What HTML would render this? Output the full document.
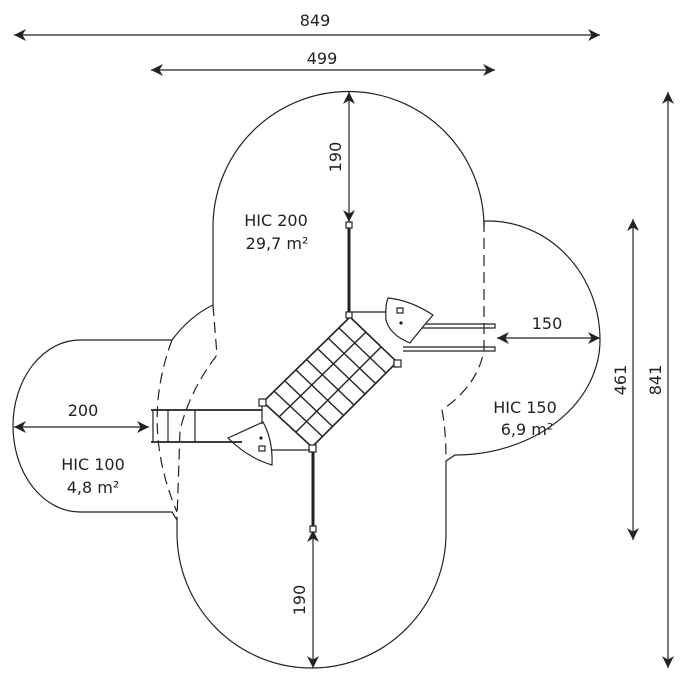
<!DOCTYPE html>
<html><head><meta charset="utf-8"><style>
html,body{margin:0;padding:0;background:#fff;}
svg{display:block;}
text{font-family:"DejaVu Sans","Liberation Sans",sans-serif;fill:#222;}
</style></head><body>
<svg width="680" height="680" viewBox="0 0 680 680" xmlns="http://www.w3.org/2000/svg">
<defs>
<marker id="a" viewBox="0 0 10 10" refX="10" refY="5" markerWidth="12" markerHeight="12" markerUnits="userSpaceOnUse" orient="auto-start-reverse">
<path d="M0,0 L10,5 L0,10 L3,5 z" fill="#222"/></marker>
</defs>
<g stroke="#222" fill="none" stroke-width="1.2">
<!-- outline -->
<path d="M213,305 L213,227 A135.5,135.5 0 0 1 484,227 L484,221 L488,221 A112,119 0 0 1 600,340 A145,115 0 0 1 455,455 L446,461 L446,533 A134.5,135 0 0 1 177,533 L177,520 L172,512 L80,512 A67,86 0 0 1 80,340 L172,340 Q190,316 213,305"/>
<!-- dashed -->
<path stroke-dasharray="11,6" d="M172,340 Q140,425 177,512"/>
<path stroke-dasharray="11,6" d="M213,305 L217,355 Q190,390 180,430 L177,520"/>
<path stroke-dasharray="11,6" d="M484,221 L484,350 Q478,385 442,410 Q446,430 446,460"/>
<!-- dimension lines -->
<line x1="14" y1="35" x2="600" y2="35" marker-start="url(#a)" marker-end="url(#a)"/>
<line x1="151" y1="70" x2="495" y2="70" marker-start="url(#a)" marker-end="url(#a)"/>
<line x1="668" y1="92" x2="668" y2="668" marker-start="url(#a)" marker-end="url(#a)"/>
<line x1="633" y1="219" x2="633" y2="540" marker-start="url(#a)" marker-end="url(#a)"/>
<line x1="349" y1="92" x2="349" y2="222" marker-start="url(#a)" marker-end="url(#a)"/>
<line x1="313" y1="530" x2="313" y2="668" marker-start="url(#a)" marker-end="url(#a)"/>
<line x1="497" y1="338" x2="600" y2="338" marker-start="url(#a)" marker-end="url(#a)"/>
<line x1="14" y1="427" x2="149" y2="427" marker-start="url(#a)" marker-end="url(#a)"/>
<!-- net -->
<path stroke-width="1.6" d="M350,317 L397,362 L312,447 L263,402 Z"/>
<g stroke-width="1.4">
<line x1="366" y1="332" x2="279" y2="417"/>
<line x1="381" y1="347" x2="296" y2="432"/>
<line x1="339" y1="328" x2="386" y2="373"/>
<line x1="328" y1="338" x2="375" y2="383"/>
<line x1="318" y1="349" x2="365" y2="394"/>
<line x1="307" y1="360" x2="354" y2="405"/>
<line x1="296" y1="370" x2="343" y2="415"/>
<line x1="285" y1="381" x2="332" y2="426"/>
<line x1="274" y1="391" x2="322" y2="436"/>
</g>
<!-- panels -->
<line x1="349" y1="225" x2="349" y2="313" stroke-width="3"/>
<rect x="346" y="222" width="6" height="6" fill="#fff"/>
<rect x="346" y="312" width="6" height="6" fill="#fff"/>
<line x1="313" y1="450" x2="313" y2="528" stroke-width="3"/>
<rect x="310" y="526" width="6" height="6" fill="#fff"/>
<rect x="309" y="445" width="7" height="7" fill="#fff"/>
<rect x="394" y="360" width="7" height="7" fill="#fff"/>
<rect x="259" y="399" width="7" height="7" fill="#fff"/>
<!-- bars -->
<line x1="352" y1="312" x2="388" y2="312"/>
<line x1="272" y1="450" x2="310" y2="450"/>
<path d="M420,324 L495,324 L495,328 L420,328"/>
<path d="M403,347 L495,347 L495,351 L403,351"/>
<!-- platforms -->
<path d="M388,298 Q410,300 433,315 Q420,330 410,343 Q390,335 386,320 Q385,306 388,298 Z" fill="#fff"/>
<rect x="397" y="308" width="6" height="5"/>
<circle cx="401" cy="323" r="1" fill="#222"/>
<path d="M263,422 L228,438 Q248,458 272,465 Q273,440 263,422 Z" fill="#fff"/>
<rect x="259" y="446" width="6" height="5"/>
<circle cx="261" cy="438" r="1" fill="#222"/>
<!-- slide -->
<line x1="151" y1="410" x2="262" y2="410" stroke-width="1.8"/>
<line x1="151" y1="442" x2="242" y2="442" stroke-width="1.8"/>
<line x1="153" y1="410" x2="153" y2="442"/>
<line x1="168" y1="410" x2="168" y2="442"/>
<line x1="195" y1="410" x2="195" y2="442"/>
<line x1="262" y1="406" x2="262" y2="424"/>
</g>
<g font-size="16">
<text x="315" y="26" text-anchor="middle">849</text>
<text x="322" y="64" text-anchor="middle">499</text>
<text x="547" y="329" text-anchor="middle">150</text>
<text x="83" y="416" text-anchor="middle">200</text>
<text x="276" y="226" text-anchor="middle">HIC 200</text>
<text x="277" y="249" text-anchor="middle">29,7 m²</text>
<text x="525" y="413" text-anchor="middle">HIC 150</text>
<text x="527" y="435" text-anchor="middle">6,9 m²</text>
<text x="93" y="470" text-anchor="middle">HIC 100</text>
<text x="93" y="493" text-anchor="middle">4,8 m²</text>
<text transform="translate(341,157) rotate(-90)" text-anchor="middle">190</text>
<text transform="translate(305,600) rotate(-90)" text-anchor="middle">190</text>
<text transform="translate(626,380) rotate(-90)" text-anchor="middle">461</text>
<text transform="translate(661,380) rotate(-90)" text-anchor="middle">841</text>
</g>
</svg>
</body></html>
